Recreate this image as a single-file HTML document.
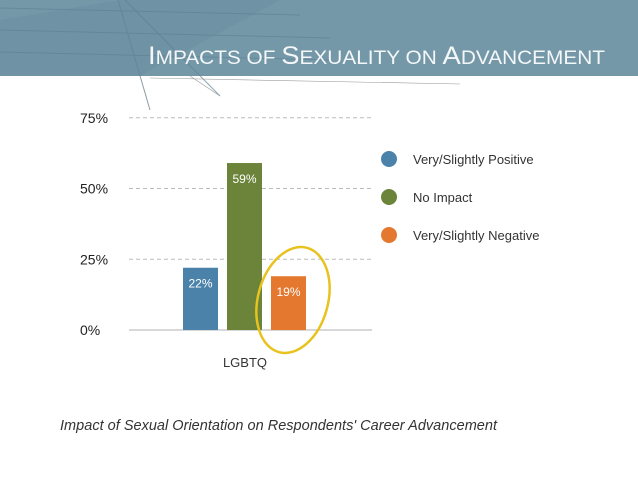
<!DOCTYPE html>
<html><head><meta charset="utf-8"><style>
body{margin:0;width:638px;height:479px;background:#fff;overflow:hidden;font-family:"Liberation Sans",sans-serif}
</style></head><body>
<svg width="638" height="479">
<g>
<rect x="0" y="0" width="638" height="76" fill="#7598a9"/>
<polygon points="0,20 120,0 280,0 140,76 0,76" fill="#6a8fa1" opacity="0.6"/>
<g stroke="#5d8396" stroke-width="1" opacity="0.7">
<line x1="0" y1="8" x2="300" y2="15"/><line x1="0" y1="30" x2="330" y2="38"/><line x1="0" y1="52" x2="330" y2="60"/>
<line x1="118" y1="0" x2="150" y2="110"/><line x1="125" y1="0" x2="220" y2="96"/>
</g>
<g stroke="#999" stroke-width="0.6">
<line x1="140" y1="76" x2="150" y2="110"/><line x1="190" y1="76" x2="220" y2="96"/><line x1="150" y1="78" x2="460" y2="84"/>
</g>
<text x="148" y="64" fill="#f4f7f8" font-size="25" textLength="457" lengthAdjust="spacingAndGlyphs">I<tspan font-size="19">MPACTS OF </tspan>S<tspan font-size="19">EXUALITY ON </tspan>A<tspan font-size="19">DVANCEMENT</tspan></text>
</g>
<g id="chart"></g>
<text x="60" y="430" font-size="14.5" font-style="italic" fill="#333" textLength="437">Impact of Sexual Orientation on Respondents' Career Advancement</text>
</svg>
<script>
const categories=["Very/Slightly Positive","No Impact","Very/Slightly Negative"];
const values=[22,59,19];
const colors=["#4a82aa","#6b843a","#e4782f"];
const ticks=[0,25,50,75];
const NS="http://www.w3.org/2000/svg";
const g=document.getElementById("chart");
const y=v=>330-v*2.83;
const bx=i=>183+i*44;
function mk(t,a,p){const e=document.createElementNS(NS,t);for(const k in a)e.setAttribute(k,a[k]);(p||g).appendChild(e);return e;}
ticks.forEach(t=>{
 if(t>0){const l=mk("line",{x1:129,x2:372,y1:y(t),y2:y(t),stroke:"#bbb","stroke-dasharray":"4,3"});
 
 }
 const tx=mk("text",{x:80,y:y(t)+5,"font-size":14,fill:"#222"});tx.textContent=t+"%";
 
 
});
const base=mk("line",{x1:129,x2:372,y1:330,y2:330,stroke:"#ccc","stroke-width":1.5});


values.forEach((v,i)=>{
 const r=mk("rect",{x:bx(i),y:y(v),width:35,height:330-y(v),fill:colors[i]});
 
 
 const t=mk("text",{x:bx(i)+17.5,y:y(v)+20,"font-size":12,fill:"#fff","text-anchor":"middle"});t.textContent=v+"%";
 
 
 const c=mk("circle",{cx:389,cy:159+i*38,r:8,fill:colors[i]});
 
 
 const lt=mk("text",{x:413,y:164+i*38,"font-size":13,fill:"#333"});lt.textContent=categories[i];
 
 
});
const xl=mk("text",{x:245,y:367,"font-size":13,fill:"#333","text-anchor":"middle"});xl.textContent="LGBTQ";


const el=mk("ellipse",{cx:293,cy:300,rx:35,ry:54,fill:"none",stroke:"#e8c21e","stroke-width":2.5,transform:"rotate(15 293 300)"});


</script>
</body></html>
